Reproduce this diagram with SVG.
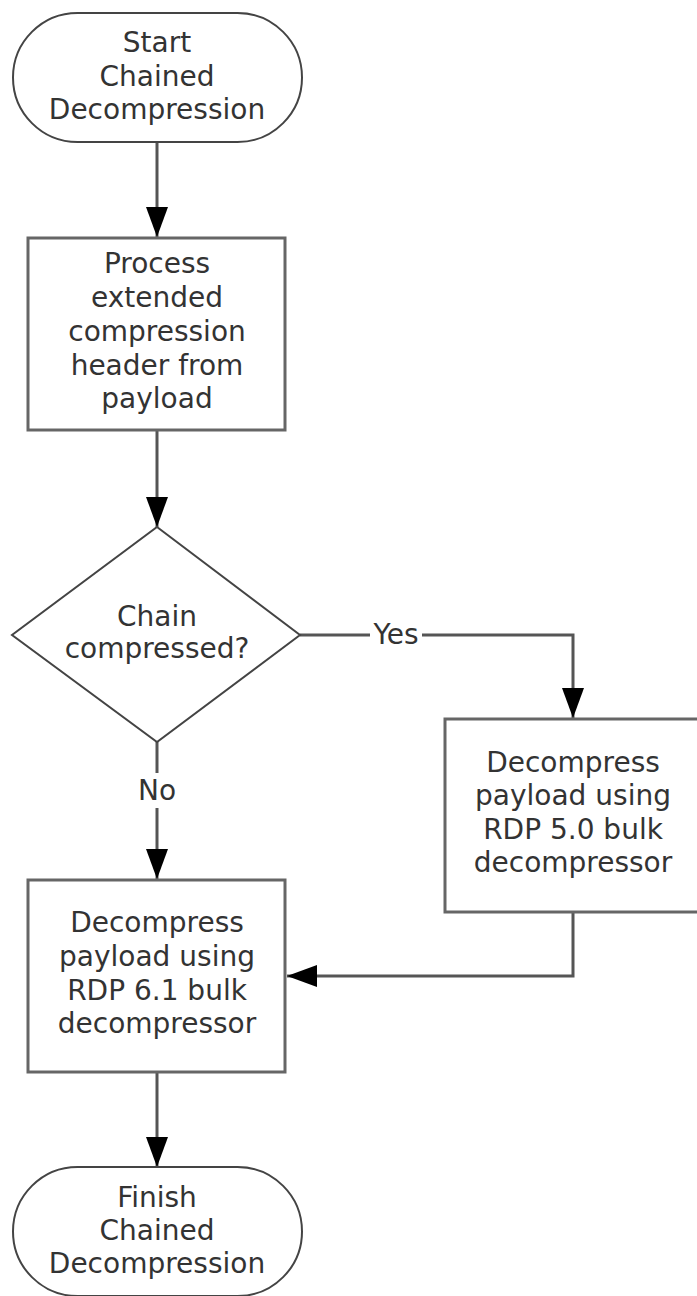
<svg xmlns="http://www.w3.org/2000/svg" width="697" height="1296" viewBox="0 0 697 1296">
<defs>
<style>
.t{font-family:"DejaVu Sans","Verdana",sans-serif;font-size:28px;fill:#333;text-anchor:middle}
.term{fill:#fff;stroke:#444;stroke-width:2}
.box{fill:#fff;stroke:#666;stroke-width:3}
.ln{fill:none;stroke:#555;stroke-width:3}
</style>
<marker id="arr" viewBox="0 0 30 22" refX="30" refY="11" markerWidth="30" markerHeight="22" markerUnits="userSpaceOnUse" orient="auto">
<path d="M0,0 L30,11 L0,22 Z" fill="#000"/>
</marker>
</defs>
<rect width="697" height="1296" fill="#fff"/>
<g id="connectors">
<line class="ln" x1="157" y1="142" x2="157" y2="237" marker-end="url(#arr)"/>
<line class="ln" x1="157" y1="431" x2="157" y2="527" marker-end="url(#arr)"/>
<polyline class="ln" points="300,635 573,635 573,718" marker-end="url(#arr)"/>
<line class="ln" x1="157" y1="742" x2="157" y2="879" marker-end="url(#arr)"/>
<polyline class="ln" points="573,912 573,976 287,976" marker-end="url(#arr)"/>
<line class="ln" x1="157" y1="1072" x2="157" y2="1167" marker-end="url(#arr)"/>
<rect x="370" y="620" width="52" height="30" fill="#fff"/>
<text class="t" x="396" y="644">Yes</text>
<rect x="135" y="773" width="44" height="35" fill="#fff"/>
<text class="t" x="157" y="800">No</text>
</g>
<g id="start">
<rect class="term" x="13" y="13" width="289" height="129" rx="64.5" ry="64.5"/>
<text class="t" x="157" y="52">Start</text>
<text class="t" x="157" y="86">Chained</text>
<text class="t" x="157" y="119">Decompression</text>
</g>
<g id="process">
<rect class="box" x="28" y="238" width="257" height="192"/>
<text class="t" x="157" y="273">Process</text>
<text class="t" x="157" y="307">extended</text>
<text class="t" x="157" y="341">compression</text>
<text class="t" x="157" y="375">header from</text>
<text class="t" x="157" y="408">payload</text>
</g>
<g id="decision">
<polygon class="term" points="157,527 300,635 157,742 12,635"/>
<text class="t" x="157" y="626">Chain</text>
<text class="t" x="157" y="658">compressed?</text>
</g>
<g id="rdp50">
<rect class="box" x="445" y="719" width="256" height="193"/>
<text class="t" x="573" y="772">Decompress</text>
<text class="t" x="573" y="805">payload using</text>
<text class="t" x="573" y="839">RDP 5.0 bulk</text>
<text class="t" x="573" y="872">decompressor</text>
</g>
<g id="rdp61">
<rect class="box" x="28" y="880" width="257" height="192"/>
<text class="t" x="157" y="932">Decompress</text>
<text class="t" x="157" y="966">payload using</text>
<text class="t" x="157" y="1000">RDP 6.1 bulk</text>
<text class="t" x="157" y="1033">decompressor</text>
</g>
<g id="finish">
<rect class="term" x="13" y="1167" width="289" height="129" rx="64.5" ry="64.5"/>
<text class="t" x="157" y="1207">Finish</text>
<text class="t" x="157" y="1240">Chained</text>
<text class="t" x="157" y="1273">Decompression</text>
</g>
</svg>
